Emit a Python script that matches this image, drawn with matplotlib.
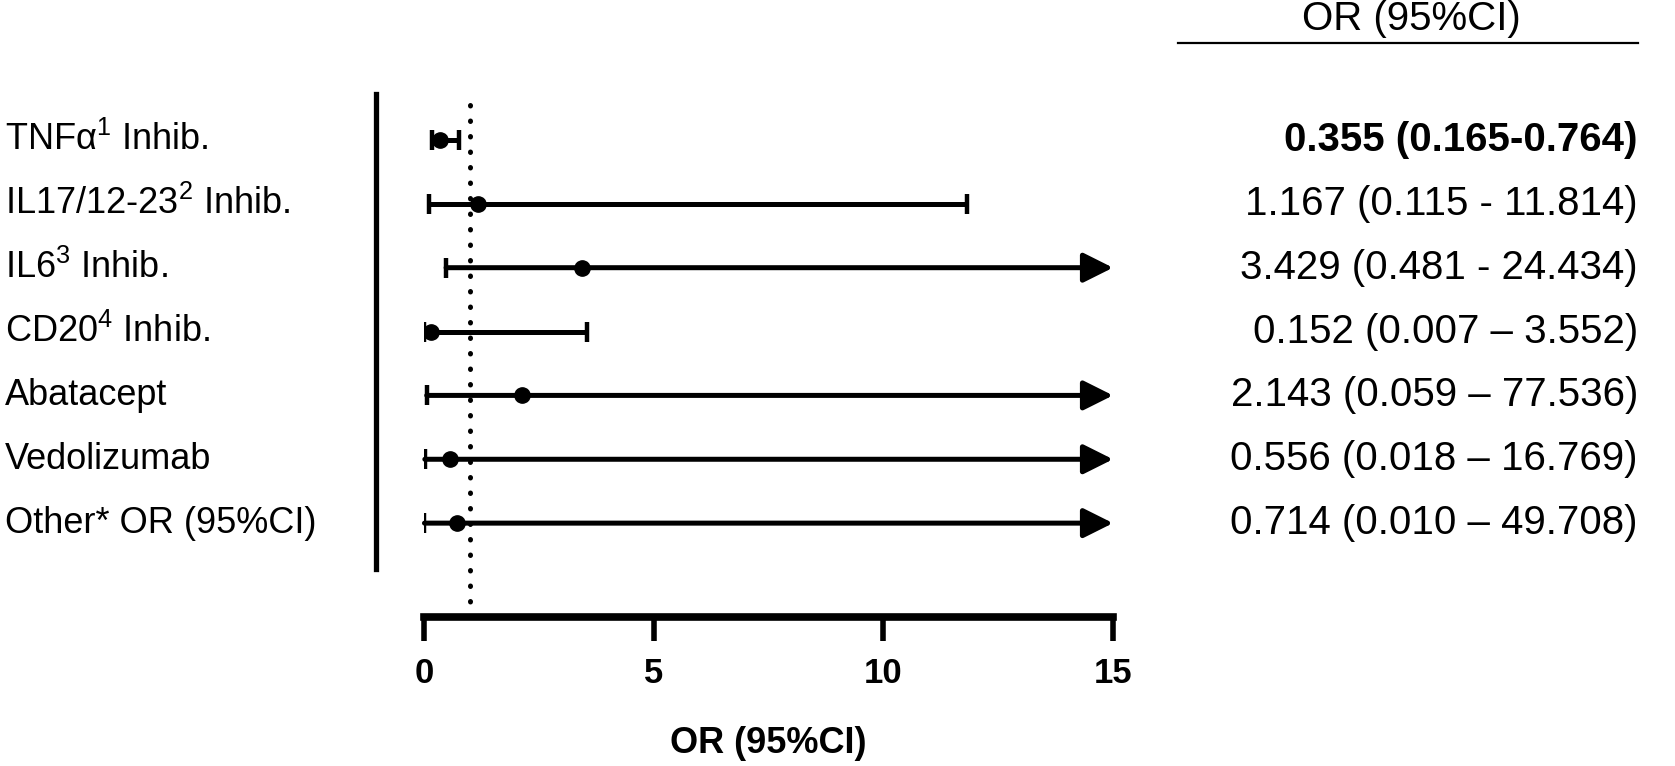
import numpy as np
import matplotlib
matplotlib.use('Agg')
import matplotlib.pyplot as plt
from matplotlib.transforms import blended_transform_factory

plt.rcParams['font.family'] = ['Liberation Sans', 'DejaVu Sans']
plt.rcParams['mathtext.default'] = 'regular'

labels = ['TNF\u03b1$^{1}$ Inhib.', 'IL17/12-23$^{2}$ Inhib.', 'IL6$^{3}$ Inhib.',
          'CD20$^{4}$ Inhib.', 'Abatacept', 'Vedolizumab', 'Other* OR (95%CI)']
odds = [0.355, 1.167, 3.429, 0.152, 2.143, 0.556, 0.714]
lower = [0.165, 0.115, 0.481, 0.007, 0.059, 0.018, 0.010]
upper = [0.764, 11.814, 24.434, 3.552, 77.536, 16.769, 49.708]
ci_text = ['0.355 (0.165-0.764)', '1.167 (0.115 - 11.814)', '3.429 (0.481 - 24.434)',
           '0.152 (0.007 \u2013 3.552)', '2.143 (0.059 \u2013 77.536)',
           '0.556 (0.018 \u2013 16.769)', '0.714 (0.010 \u2013 49.708)']
xmax = 15

W, H = 1675, 766
fig = plt.figure(figsize=(W / 100, H / 100), dpi=100)
ax = fig.add_axes([424 / W, 1 - 617 / H, 689 / W, (617 - 94) / H])
ax.set_xlim(0, xmax)
ax.set_ylim(7.47, -0.72)

rows = np.arange(len(labels))
for i in rows:
    lo, hi, o = lower[i], upper[i], odds[i]
    if hi > xmax:
        ax.annotate('', xy=(xmax, i), xytext=(lo, i),
                    arrowprops=dict(arrowstyle='-|>,head_length=0.9,head_width=0.45',
                                    lw=3.6, color='black', shrinkA=0, shrinkB=0,
                                    mutation_scale=20), annotation_clip=False)
        ax.plot([lo], [i], marker='|', ms=15, mew=3.2, color='black')
    else:
        ax.plot([lo, hi], [i, i], color='black', lw=3.6, solid_capstyle='butt')
        ax.plot([lo, hi], [i, i], ls='none', marker='|', ms=15, mew=3.2, color='black')
    ax.plot([o], [i], marker='o', ms=11, color='black')

ax.axvline(1, color='black', ls=(0, (0.1, 3.0)), lw=3.6, dash_capstyle='round')

for s in ['top', 'right', 'left']:
    ax.spines[s].set_visible(False)
ax.spines['bottom'].set_linewidth(5.5)
ax.set_yticks([])
ax.set_xticks([0, 5, 10, 15])
ax.tick_params(axis='x', length=17, width=4, pad=12)
for t in ax.get_xticklabels():
    t.set_fontweight('bold')
    t.set_fontsize(25)
ax.set_xlabel('OR (95%CI)', fontsize=26, fontweight='bold', labelpad=26)

# left vertical bar
fig.add_artist(plt.Line2D([376 / W, 376 / W], [1 - 94 / H, 1 - 569 / H],
                          color='black', lw=3.8, transform=fig.transFigure))

tr = blended_transform_factory(fig.transFigure, ax.transData)
for i in rows:
    ax.text(5 / W, i, labels[i], transform=tr, ha='left', va='center', fontsize=26)
    ax.text(1638 / W, i, ci_text[i], transform=tr, ha='right', va='center',
            fontsize=29, fontweight='bold' if i == 0 else 'normal')

fig.text(1411 / W, 1 - 19 / H, 'OR (95%CI)', ha='center', va='center', fontsize=29)
fig.add_artist(plt.Line2D([1178 / W, 1638 / W], [1 - 43 / H, 1 - 43 / H],
                          color='black', lw=1.6, transform=fig.transFigure))

fig.savefig('out.png', dpi=100)
